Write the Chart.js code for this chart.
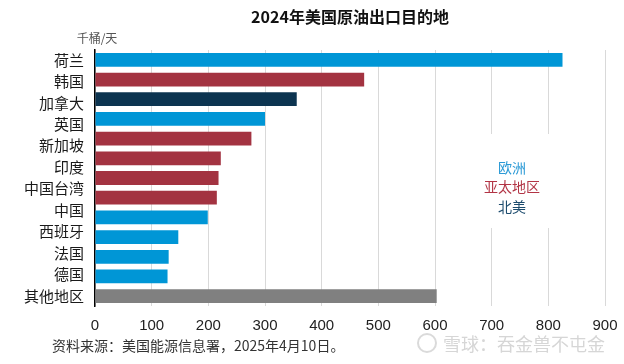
<!DOCTYPE html>
<html>
<head>
<meta charset="utf-8">
<script src="https://cdn.jsdelivr.net/npm/chart.js@4"></script>
<style>
  html, body { margin: 0; padding: 0; background: #fff; }
  #wrap { width: 624px; height: 364px; }
</style>
</head>
<body>
<div id="wrap"><canvas id="exportChart" width="624" height="364"></canvas></div>
<script>
// 左侧标签（原图只有12个标签，对应13根柱子）
const LABELS = ["荷兰", "韩国", "加拿大", "英国", "新加坡", "印度", "中国台湾", "中国", "西班牙", "法国", "德国", "其他地区"];
// 千桶/天
const VALUES = [825, 475, 356, 300, 276, 222, 218, 215, 199, 147, 130, 128, 603];
const REGIONS = ["欧洲", "亚太地区", "北美", "欧洲", "亚太地区", "亚太地区", "亚太地区", "亚太地区", "欧洲", "欧洲", "欧洲", "欧洲", "其他"];
const X_TICKS = [0, 100, 200, 300, 400, 500, 600, 700, 800, 900];
const LEGEND = ["欧洲", "亚太地区", "北美"];

const REGION_COLORS = {
  "欧洲": "#0096d6",
  "亚太地区": "#a33341",
  "北美": "#0c3450",
  "其他": "#808080",
};
const LEGEND_COLORS = { "欧洲": "#2b9ad6", "亚太地区": "#b23445", "北美": "#1d4c6e" };

const CJK = '"Noto Sans CJK SC", "Noto Sans", sans-serif';
const BAR_MIN = -0.5;
const BAR_MAX = VALUES.length - 0.5;

const textPlugin = {
  id: "texts",
  beforeDatasetsDraw(chart) {
    // 图例背景遮住网格线
    const ctx = chart.ctx;
    ctx.save();
    ctx.fillStyle = "#fff";
    ctx.fillRect(470, 134, 100, 94);
    ctx.restore();
  },
  afterDraw(chart) {
    const ctx = chart.ctx;
    const area = chart.chartArea;
    ctx.save();
    ctx.textBaseline = "middle";

    ctx.textAlign = "center";
    ctx.fillStyle = "#111";
    ctx.font = "bold 16px " + CJK;
    ctx.fillText("2024年美国原油出口目的地", (area.left + area.right) / 2, 17);

    ctx.fillStyle = "#555";
    ctx.font = "12px " + CJK;
    ctx.fillText("千桶/天", 97, 38);

    ctx.font = "14px " + CJK;
    const ys = [168, 187, 207];
    LEGEND.forEach((name, i) => {
      ctx.fillStyle = LEGEND_COLORS[name];
      ctx.fillText(name, 512, ys[i]);
    });

    ctx.textAlign = "left";
    ctx.fillStyle = "#333";
    ctx.font = "14px " + CJK;
    ctx.fillText("资料来源：美国能源信息署，2025年4月10日。", 52, 346);

    // 水印
    ctx.strokeStyle = "#dadada";
    ctx.lineWidth = 2;
    ctx.beginPath();
    ctx.arc(427, 343, 9, 0, Math.PI * 2);
    ctx.stroke();
    ctx.fillStyle = "#d6d6d6";
    ctx.font = "18px " + CJK;
    ctx.fillText("雪球：吞金兽不屯金", 443, 344);
    ctx.restore();
  },
};

new Chart(document.getElementById("exportChart"), {
  type: "bar",
  data: {
    labels: VALUES.map((_, i) => i),
    datasets: [
      {
        data: VALUES,
        backgroundColor: REGIONS.map((r) => REGION_COLORS[r]),
        barPercentage: 0.7,
        categoryPercentage: 1,
      },
    ],
  },
  options: {
    indexAxis: "y",
    responsive: false,
    animation: false,
    devicePixelRatio: 1,
    layout: { padding: { top: 50, right: 19, bottom: 0, left: 0 } },
    plugins: { legend: { display: false }, tooltip: { enabled: false } },
    scales: {
      x: {
        type: "linear",
        min: 0,
        max: 900,
        afterBuildTicks: (axis) => {
          axis.ticks = X_TICKS.map((v) => ({ value: v }));
        },
        grid: { color: "#d9d9d9", lineWidth: 1, drawTicks: false },
        border: { display: false },
        ticks: {
          color: "#222",
          padding: 11,
          font: { family: '"Liberation Sans", Arial, sans-serif', size: 15 },
        },
        afterFit: (axis) => {
          axis.height = 58;
          axis.paddingLeft = 0;
          axis.paddingRight = 0;
        },
      },
      y: {
        type: "category",
        display: false,
      },
      // 标签轴：12个标签均匀分布在第一根与最后一根柱子之间
      yl: {
        type: "linear",
        position: "left",
        reverse: true,
        offset: false,
        min: BAR_MIN,
        max: BAR_MAX,
        afterBuildTicks: (axis) => {
          axis.ticks = LABELS.map((_, i) => ({
            value: (i * (VALUES.length - 1)) / (LABELS.length - 1),
          }));
        },
        grid: { display: false, drawTicks: false },
        border: { display: true, color: "#000", width: 1.5 },
        ticks: {
          color: "#1a1a1a",
          padding: 11,
          font: { family: CJK, size: 15 },
          callback: (value, index) => LABELS[index],
        },
        afterFit: (axis) => {
          axis.width = 95;
          axis.paddingTop = 0;
          axis.paddingBottom = 0;
        },
      },
    },
  },
  plugins: [textPlugin],
});
</script>
</body>
</html>
